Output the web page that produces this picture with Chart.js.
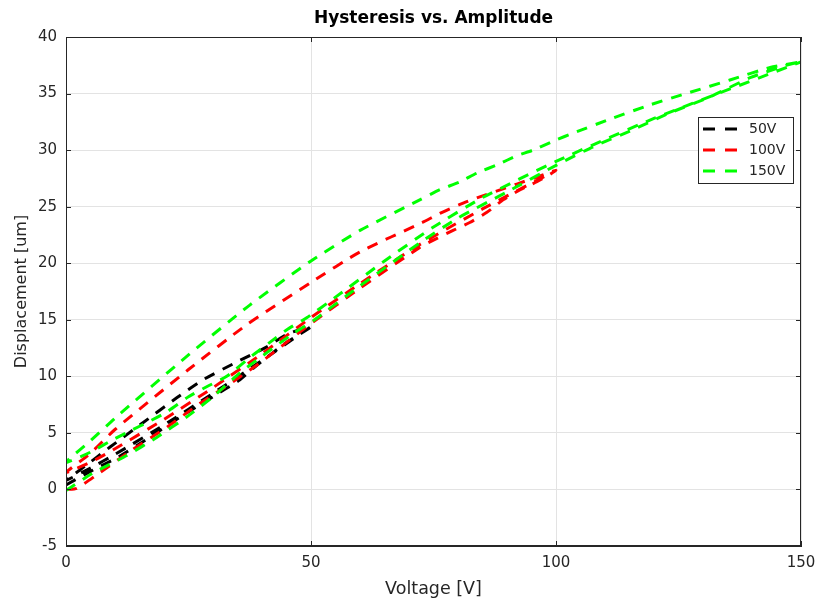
<!DOCTYPE html>
<html>
<head>
<meta charset="utf-8">
<script src="https://cdn.jsdelivr.net/npm/chart.js@4/dist/chart.umd.min.js"></script>
<style>
  body { margin: 0; background: #fff; }
  #wrap { width: 816px; height: 601px; }
</style>
</head>
<body>
<div id="wrap"><canvas id="hystChart" width="816" height="601"></canvas></div>
<script>
// path of each measurement: rising branch, falling branch, second rising branch
const v50 = [0, 5, 10.4, 16.7, 23.3, 30, 35.5, 39, 45, 50,
  45, 41, 35, 28, 22.6, 15.7, 9, 4, 0,
  5, 10, 20, 30, 40, 50];
const d50 = [0.4, 1.6, 2.8, 4.5, 6.4, 8.2, 9.7, 11.0, 13.0, 14.4,
  13.7, 12.6, 11.3, 9.7, 8.1, 5.9, 3.75, 2.1, 0.8,
  1.9, 3.1, 5.7, 8.5, 11.4, 14.4];

const v100 = [0, 2.2, 6.3, 13.5, 20.6, 27.3, 34, 39.6, 45, 50.4, 60, 72.2, 75.7, 79, 82.4, 85.9, 89.2, 92.7, 96.1, 100,
  96, 92, 88, 84, 80.4, 76.3, 72.7, 60, 50, 37, 25, 10, 5, 0,
  5, 10, 20, 30, 40, 50, 60, 72, 85, 100];
const d100 = [0, 0.1, 1.3, 3.5, 5.5, 7.6, 9.5, 11.2, 13.0, 14.8, 17.8, 21.4, 22.2, 22.9, 23.6, 24.5, 25.6, 26.5, 27.2, 28.2,
  27.6, 27.0, 26.4, 25.8, 25.2, 24.4, 23.6, 21.0, 18.3, 14.6, 10.6, 5.3, 3.2, 1.5,
  2.4, 3.6, 6.2, 9.0, 12.0, 15.2, 18.2, 21.6, 24.8, 28.2];

const v150 = [0, 5.5, 12.4, 18.5, 24.6, 30, 35.5, 41, 46.4, 50.4, 60, 72.2, 80, 90, 100.2, 107.6, 115.7, 123.3, 131.4, 139.6, 147, 150,
  143.7, 135.5, 127.3, 119.2, 111.4, 103.5, 100, 95.3, 92, 88, 84, 80.4, 76.3, 72.2, 60, 50, 37.5, 25, 10, 5, 0,
  5, 10, 20, 25, 28.8, 32.8, 38.2, 41.6, 45, 49.2, 55, 65, 75, 85, 100, 120, 150];
const d150 = [-0.1, 1.45, 3.0, 4.6, 6.4, 8.2, 10.3, 12.1, 13.8, 14.9, 18.0, 21.8, 24.0, 26.3, 28.7, 30.3, 31.8, 33.3, 34.7, 36.4, 37.5, 37.8,
  37.3, 36.2, 35.1, 34.0, 32.8, 31.5, 30.9, 30.0, 29.5, 28.7, 28.0, 27.2, 26.5, 25.6, 22.9, 20.2, 16.3, 11.9, 6.3, 4.3, 2.4,
  3.3, 4.5, 6.7, 8.2, 9.1, 10.0, 11.9, 13.0, 14.1, 15.2, 17.0, 20.2, 23.2, 25.8, 29.0, 32.8, 37.8];

const seriesLabels = ['50V', '100V', '150V'];
const seriesColors = ['#000000', '#ff0000', '#00ff00'];
const chartTitle = 'Hysteresis vs. Amplitude';

const axisColor = '#262626';
const fontFamily = 'DejaVu Sans';

function toPoints(vs, ds) {
  return vs.map((v, i) => ({ x: v, y: ds[i] }));
}

const allSeries = [[v50, d50], [v100, d100], [v150, d150]];

// title over the plot, box round the plot, inner tick marks and the legend (MATLAB look)
const matlabFrame = {
  id: 'matlabFrame',
  afterDatasetsDraw(chart) {
    const ctx = chart.ctx;
    const area = chart.chartArea;
    const xs = chart.scales.x;
    const ys = chart.scales.y;
    ctx.save();

    ctx.fillStyle = '#000';
    ctx.font = 'bold 17px "' + fontFamily + '"';
    ctx.textAlign = 'center';
    ctx.textBaseline = 'middle';
    ctx.fillText(chartTitle, (area.left + area.right) / 2, 19);

    ctx.strokeStyle = axisColor;
    ctx.lineWidth = 1;
    ctx.setLineDash([]);
    ctx.strokeRect(area.left + 0.5, area.top + 0.5, area.right - area.left - 1, area.bottom - area.top - 1);

    const tickLen = 5;
    ctx.beginPath();
    xs.ticks.forEach(t => {
      const px = Math.round(xs.getPixelForValue(t.value)) + 0.5;
      ctx.moveTo(px, area.bottom);
      ctx.lineTo(px, area.bottom - tickLen);
      ctx.moveTo(px, area.top);
      ctx.lineTo(px, area.top + tickLen);
    });
    ys.ticks.forEach(t => {
      const py = Math.round(ys.getPixelForValue(t.value)) + 0.5;
      ctx.moveTo(area.left, py);
      ctx.lineTo(area.left + tickLen, py);
      ctx.moveTo(area.right, py);
      ctx.lineTo(area.right - tickLen, py);
    });
    ctx.stroke();

    // legend in the upper right
    const boxX = 698, boxY = 117, boxW = 95, rowH = 21;
    const boxH = rowH * chart.data.datasets.length + 3;
    ctx.fillStyle = '#ffffff';
    ctx.fillRect(boxX, boxY, boxW, boxH);
    ctx.strokeStyle = axisColor;
    ctx.strokeRect(boxX + 0.5, boxY + 0.5, boxW, boxH);
    ctx.font = '14px "' + fontFamily + '"';
    ctx.textAlign = 'left';
    chart.data.datasets.forEach((ds, i) => {
      const y = boxY + 12 + i * rowH;
      ctx.strokeStyle = ds.borderColor;
      ctx.lineWidth = 3;
      ctx.setLineDash([12, 10]);
      ctx.beginPath();
      ctx.moveTo(703, y);
      ctx.lineTo(737, y);
      ctx.stroke();
      ctx.fillStyle = axisColor;
      ctx.fillText(ds.label, 749, y);
    });
    ctx.restore();
  }
};

const ctx = document.getElementById('hystChart').getContext('2d');
const chart = new Chart(ctx, {
  type: 'scatter',
  data: {
    datasets: allSeries.map((s, i) => ({
      label: seriesLabels[i],
      data: toPoints(s[0], s[1]),
      showLine: true,
      borderColor: seriesColors[i],
      backgroundColor: seriesColors[i],
      borderWidth: 3,
      borderDash: [11, 9],
      pointRadius: 0,
      tension: 0.2,
      order: 3 - i
    }))
  },
  options: {
    responsive: false,
    animation: false,
    layout: { padding: { left: 0, right: 15, top: 37, bottom: 0 } },
    plugins: {
      legend: { display: false },
      tooltip: { enabled: false },
      title: { display: false }
    },
    scales: {
      x: {
        type: 'linear',
        min: 0,
        max: 150,
        ticks: {
          stepSize: 50,
          color: axisColor,
          padding: 8,
          font: { family: fontFamily, size: 15 }
        },
        grid: { color: '#e3e3e3', drawTicks: false },
        border: { color: axisColor },
        title: {
          display: true,
          text: 'Voltage [V]',
          color: axisColor,
          font: { family: fontFamily, size: 17.5 },
          padding: { top: 0, bottom: 1 }
        },
        afterFit: scale => {
          scale.height = 55;
          scale.paddingLeft = 0;
          scale.paddingRight = 0;
        }
      },
      y: {
        type: 'linear',
        min: -5,
        max: 40,
        ticks: {
          stepSize: 5,
          color: axisColor,
          padding: 9,
          font: { family: fontFamily, size: 15 }
        },
        grid: { color: '#e3e3e3', drawTicks: false },
        border: { color: axisColor },
        title: {
          display: true,
          text: 'Displacement [um]',
          color: axisColor,
          font: { family: fontFamily, size: 16 },
          padding: { top: 12, bottom: 0 }
        },
        afterFit: scale => {
          scale.width = 66;
          scale.paddingTop = 0;
          scale.paddingBottom = 0;
        }
      }
    }
  },
  plugins: [matlabFrame]
});
</script>
</body>
</html>
